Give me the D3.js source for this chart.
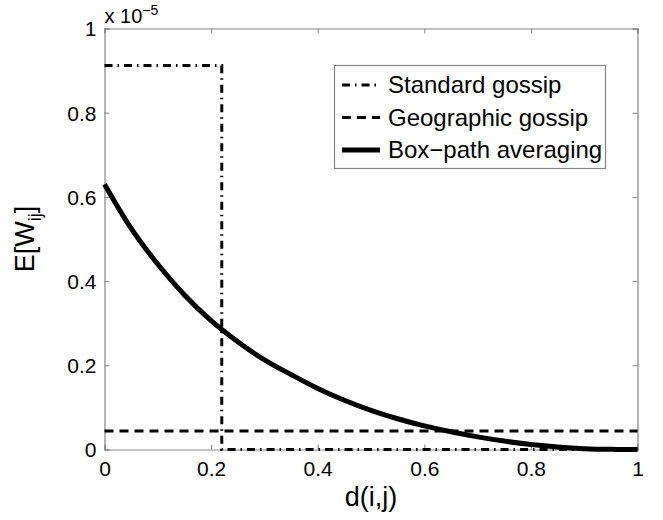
<!DOCTYPE html>
<html><head><meta charset="utf-8">
<script src="https://cdn.jsdelivr.net/npm/d3@7"></script>
<style>body{margin:0;background:#fff}svg{display:block;font-family:"Liberation Sans",Arial,sans-serif}</style>
</head><body><svg id="c" width="663" height="520"></svg>
<script>
// Data
const xTicks = [0, 0.2, 0.4, 0.6, 0.8, 1];
const yTicks = [0, 0.2, 0.4, 0.6, 0.8, 1];
const seriesNames = ["Standard gossip", "Geographic gossip", "Box\u2212path averaging"];
const standardX = [0, 0.22, 0.22, 1];
const standardY = [0.912, 0.912, 0, 0];
const geographicX = [0, 1];
const geographicY = [0.044, 0.044];
const boxX = [0, 0.05, 0.1, 0.15, 0.2, 0.25, 0.3, 0.35, 0.4, 0.45, 0.5, 0.55, 0.6, 0.65, 0.7, 0.75, 0.8, 0.85, 0.9, 0.95, 1.0];
const boxY = [0.63, 0.525, 0.44, 0.367, 0.306, 0.256, 0.213, 0.178, 0.145, 0.117, 0.093, 0.073, 0.056, 0.042, 0.030, 0.020, 0.012, 0.006, 0.002, 0.0004, 0];

const svg = d3.select("#c");
const L = 104.5, R = 637.5, T = 28.5, B = 449.5;
const x = d3.scaleLinear().domain([0, 1]).range([L, R]);
const y = d3.scaleLinear().domain([0, 1]).range([B, T]);
const axisCol = "#858585";
const font = "'Liberation Sans',Arial,sans-serif";

// axes with inward ticks
const gx = svg.append("g").attr("transform", `translate(0,${B})`)
  .call(d3.axisBottom(x).tickValues(xTicks).tickSize(-5).tickPadding(12).tickFormat(d3.format("")));
const gxt = svg.append("g").attr("transform", `translate(0,${T})`)
  .call(d3.axisTop(x).tickValues(xTicks).tickSize(-5).tickFormat(""));
const gy = svg.append("g").attr("transform", `translate(${L},0)`)
  .call(d3.axisLeft(y).tickValues(yTicks).tickSize(-5).tickPadding(8).tickFormat(d3.format("")));
const gyr = svg.append("g").attr("transform", `translate(${R},0)`)
  .call(d3.axisRight(y).tickValues(yTicks).tickSize(-5).tickFormat(""));
[gx, gxt, gy, gyr].forEach(g => {
  g.select(".domain").attr("stroke", axisCol).attr("stroke-width", 1.2);
  g.selectAll(".tick line").attr("stroke", axisCol);
  g.selectAll(".tick text").attr("fill", "#000").style("font-size", "21px").style("font-family", font);
});
gx.selectAll(".tick text").attr("dy", "0.71em");
gy.selectAll(".tick text").attr("dy", "0.35em");

const clip = svg.append("clipPath").attr("id", "cp").append("rect")
  .attr("x", L - 3).attr("y", T - 3).attr("width", R - L + 6).attr("height", B - T + 6);
const plot = svg.append("g").attr("clip-path", "url(#cp)");
const line = d3.line().x(d => x(d[0])).y(d => y(d[1]));

// Box-path
plot.append("path").datum(boxX.map((v, i) => [v, boxY[i]]))
  .attr("d", d3.line().x(d => x(d[0])).y(d => y(d[1])).curve(d3.curveMonotoneX))
  .attr("fill", "none").attr("stroke", "#000").attr("stroke-width", 5);
// Geographic
plot.append("path").datum(geographicX.map((v, i) => [v, geographicY[i]]))
  .attr("d", line).attr("fill", "none").attr("stroke", "#000")
  .attr("stroke-width", 3).attr("stroke-dasharray", "9,6");
// Standard
plot.append("path").datum(standardX.map((v, i) => [v, standardY[i]]))
  .attr("d", line).attr("fill", "none").attr("stroke", "#000")
  .attr("stroke-width", 3).attr("stroke-dasharray", "8,5,1.5,5");

// exponent label
const ex = svg.append("text").attr("x", L).attr("y", 22.5).style("font-size", "20px");
ex.append("tspan").text("x 10");
ex.append("tspan").attr("dy", -8).style("font-size", "14px").text("\u22125");

// axis labels
svg.append("text").attr("x", (L + R) / 2).attr("y", 506).attr("text-anchor", "middle")
  .style("font-size", "27px").text("d(i,j)");
const yl = svg.append("text").attr("transform", `translate(34,${(T + B) / 2}) rotate(-90)`)
  .attr("text-anchor", "middle").style("font-size", "27px");
yl.append("tspan").text("E[W");
yl.append("tspan").attr("dy", 7).style("font-size", "18px").text("ij");
yl.append("tspan").attr("dy", -7).text("]");

// legend
const lg = svg.append("g");
lg.append("rect").attr("x", 334.5).attr("y", 65.5).attr("width", 271).attr("height", 103)
  .attr("fill", "#fff").attr("stroke", axisCol).attr("stroke-width", 1.2);
const styles = [
  {w: 3, dash: "8,5,1.5,5"},
  {w: 3, dash: "9,6"},
  {w: 5, dash: null}
];
seriesNames.forEach((n, i) => {
  const yy = 85 + i * 32.5;
  lg.append("line").attr("x1", 342).attr("x2", 380).attr("y1", yy).attr("y2", yy)
    .attr("stroke", "#000").attr("stroke-width", styles[i].w)
    .attr("stroke-dasharray", styles[i].dash);
  lg.append("text").attr("x", 388).attr("y", yy).attr("dy", "0.35em").style("font-size", "24px").text(n);
});
</script></body></html>
